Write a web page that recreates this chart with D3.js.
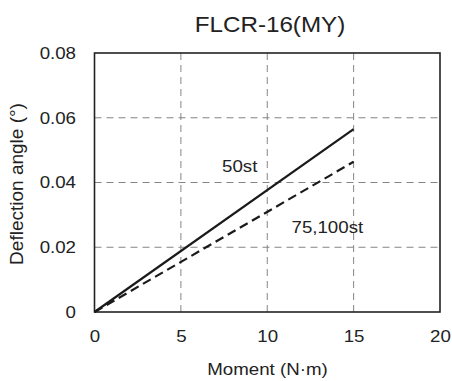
<!DOCTYPE html>
<html>
<head>
<meta charset="utf-8">
<script src="https://cdn.jsdelivr.net/npm/d3@7"></script>
<style>
  html, body { margin: 0; padding: 0; background: #fff; }
  svg { display: block; font-family: "Liberation Sans", Arial, sans-serif; }
</style>
</head>
<body>
<svg id="chart" width="452" height="381"></svg>
<script>
// Moment (N·m) vs deflection angle (°)
const moments = [0, 15];
const series50 = [0, 0.0565];
const series75100 = [0, 0.0464];
const xTicks = [0, 5, 10, 15, 20];
const yTicks = [0, 0.02, 0.04, 0.06, 0.08];
const yTickLabels = ["0", "0.02", "0.04", "0.06", "0.08"];

const svg = d3.select("#chart");
const m = { left: 94.5, right: 440, top: 53, bottom: 312 };
const SX = 1.1;          // slightly wide lettering
const ink = "#222";

const x = d3.scaleLinear().domain([0, 20]).range([m.left, m.right]);
const y = d3.scaleLinear().domain([0, 0.08]).range([m.bottom, m.top]);

function label(px, py, txt, size, anchor) {
  return svg.append("text")
    .attr("transform", `translate(${px},${py}) scale(${SX},1)`)
    .attr("text-anchor", anchor || "start")
    .attr("font-size", size).attr("fill", ink).text(txt);
}

// grid
const grid = svg.append("g").attr("stroke", "#858585").attr("stroke-width", 1)
  .attr("stroke-dasharray", "7,5");
xTicks.slice(1, -1).forEach(t => {
  grid.append("line").attr("x1", x(t)).attr("x2", x(t))
    .attr("y1", m.top).attr("y2", m.bottom);
});
yTicks.slice(1, -1).forEach(t => {
  grid.append("line").attr("x1", m.left).attr("x2", m.right)
    .attr("y1", y(t)).attr("y2", y(t));
});

// frame
svg.append("rect").attr("x", m.left).attr("y", m.top)
  .attr("width", m.right - m.left).attr("height", m.bottom - m.top)
  .attr("fill", "none").attr("stroke", ink).attr("stroke-width", 1.6);

// tick labels
const xAxis = d3.axisBottom(x).tickValues(xTicks).tickSize(0).tickPadding(18);
const gx = svg.append("g").attr("transform", `translate(0,${m.bottom})`).call(xAxis);
gx.select(".domain").remove();
gx.selectAll("text").attr("font-size", 17).attr("fill", ink)
  .attr("font-family", "Liberation Sans, Arial, sans-serif")
  .attr("transform", `scale(${SX},1)`);

const yAxis = d3.axisLeft(y).tickValues(yTicks).tickSize(0).tickPadding(16.8)
  .tickFormat((d, i) => yTickLabels[i]);
const gy = svg.append("g").attr("transform", `translate(${m.left},0)`).call(yAxis);
gy.select(".domain").remove();
gy.selectAll("text").attr("font-size", 17).attr("fill", ink)
  .attr("font-family", "Liberation Sans, Arial, sans-serif")
  .attr("transform", `scale(${SX},1)`);

// data lines
const line = d3.line().x(d => x(d[0])).y(d => y(d[1]));
svg.append("path").datum(moments.map((v, i) => [v, series50[i]]))
  .attr("d", line).attr("fill", "none").attr("stroke", "#1a1a1a").attr("stroke-width", 2.2);
svg.append("path").datum(moments.map((v, i) => [v, series75100[i]]))
  .attr("d", line).attr("fill", "none").attr("stroke", "#1a1a1a").attr("stroke-width", 2.2)
  .attr("stroke-dasharray", "9,5");

// series labels
label(222, 171.5, "50st", 17);
label(291.5, 232.5, "75,100st", 17);

// title
label(270, 31.5, "FLCR-16(MY)", 22, "middle");

// axis titles
label(267.5, 375, "Moment (N·m)", 17, "middle");
svg.append("text").attr("transform", `translate(23,184) rotate(-90)`)
  .attr("text-anchor", "middle").attr("font-size", 19).attr("fill", ink)
  .text("Deflection angle (°)");
</script>
</body>
</html>
